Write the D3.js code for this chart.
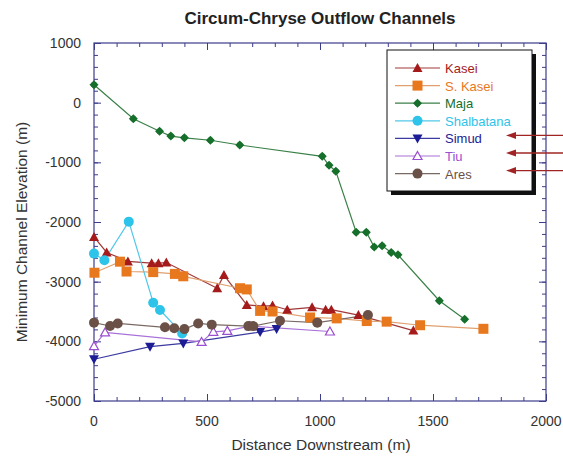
<!DOCTYPE html>
<html>
<head>
<meta charset="utf-8">
<script src="https://cdn.jsdelivr.net/npm/d3@7"></script>
<style>
  body { margin: 0; background: #fff; }
  text { font-family: "Liberation Sans", Arial, sans-serif; }
</style>
</head>
<body>
<div id="chart"></div>
<script>
// data (distance m, elevation m)
const seriesNames = ["Kasei", "S. Kasei", "Maja", "Shalbatana", "Simud", "Tiu", "Ares"];

const kasei = [[0,-2250],[56,-2510],[150,-2660],[255,-2690],[285,-2690],[320,-2680],[545,-3110],[575,-2890],[676,-3390],[750,-3410],[790,-3400],[855,-3470],[965,-3430],[1025,-3470],[1050,-3470],[1170,-3560],[1413,-3820]];
const sKasei = [[2,-2850],[115,-2665],[144,-2830],[262,-2840],[358,-2870],[395,-2910],[646,-3110],[676,-3130],[735,-3490],[790,-3500],[956,-3600],[1074,-3615],[1207,-3660],[1295,-3670],[1443,-3730],[1723,-3790]];
const maja = [[0,300],[174,-270],[290,-480],[340,-560],[400,-590],[515,-630],[645,-710],[1010,-900],[1040,-1050],[1070,-1150],[1160,-2170],[1205,-2170],[1240,-2420],[1275,-2400],[1315,-2510],[1345,-2550],[1528,-3320],[1640,-3630]];
const shalbatana = [[0,-2530],[46,-2640],[154,-1994],[262,-3352],[292,-3475],[390,-3870]];
const simud = [[0,-4300],[248,-4090],[395,-4035],[735,-3845],[808,-3795]];
const tiu = [[0,-4080],[49,-3850],[476,-4010],[528,-3840],[590,-3825],[690,-3745],[1044,-3835]];
const ares = [[0,-3687],[71,-3743],[105,-3700],[314,-3765],[355,-3780],[400,-3795],[461,-3700],[521,-3720],[683,-3745],[705,-3745],[823,-3655],[988,-3687],[1212,-3560]];

const xTicks = [0, 500, 1000, 1500, 2000];
const yTicks = [1000, 0, -1000, -2000, -3000, -4000, -5000];
const arrowRows = ["Simud", "Tiu", "Ares"];

const series = [
  { name: "Kasei", data: kasei, color: "#a51a1a", line: "#a03838", marker: "tri" },
  { name: "S. Kasei", data: sKasei, color: "#e8781e", line: "#e0a070", marker: "square" },
  { name: "Maja", data: maja, color: "#16702c", line: "#3a8048", marker: "diamond" },
  { name: "Shalbatana", data: shalbatana, color: "#2ec4ea", line: "#50c8e8", marker: "circle" },
  { name: "Simud", data: simud, color: "#1c1c94", line: "#3a3aa0", marker: "triDown" },
  { name: "Tiu", data: tiu, color: "#9a4ed0", line: "#a870d8", marker: "triOpen" },
  { name: "Ares", data: ares, color: "#6a5046", line: "#7a6a64", marker: "circle" }
];

const W = 563, H = 462;
const margin = { left: 94, right: 17, top: 43, bottom: 61 };
const iw = W - margin.left - margin.right, ih = H - margin.top - margin.bottom;

const svg = d3.select("#chart").append("svg").attr("width", W).attr("height", H);

const x = d3.scaleLinear().domain([0, 2000]).range([margin.left, margin.left + iw]);
const y = d3.scaleLinear().domain([-5000, 1000]).range([margin.top + ih, margin.top]);

const axisColor = "#3c3c8c";

// frame
svg.append("rect").attr("x", margin.left).attr("y", margin.top)
  .attr("width", iw).attr("height", ih)
  .attr("fill", "none").attr("stroke", axisColor).attr("stroke-width", 1.2);

// inward ticks on all sides
function ticksOn(g, axisGen) {
  g.call(axisGen);
  g.select(".domain").remove();
  g.selectAll("line").attr("stroke", axisColor);
}
const minorX = d3.range(0, 2001, 100), minorY = d3.range(-5000, 1001, 200);
svg.append("g").attr("transform", `translate(0,${margin.top + ih})`)
  .call(g => ticksOn(g, d3.axisTop(x).tickValues(minorX).tickSize(4).tickFormat("")));
svg.append("g").attr("transform", `translate(0,${margin.top + ih})`)
  .call(g => ticksOn(g, d3.axisTop(x).tickValues(xTicks).tickSize(7).tickFormat("")));
svg.append("g").attr("transform", `translate(0,${margin.top})`)
  .call(g => ticksOn(g, d3.axisBottom(x).tickValues(minorX).tickSize(4).tickFormat("")));
svg.append("g").attr("transform", `translate(0,${margin.top})`)
  .call(g => ticksOn(g, d3.axisBottom(x).tickValues(xTicks).tickSize(7).tickFormat("")));
svg.append("g").attr("transform", `translate(${margin.left},0)`)
  .call(g => ticksOn(g, d3.axisRight(y).tickValues(minorY).tickSize(4).tickFormat("")));
svg.append("g").attr("transform", `translate(${margin.left},0)`)
  .call(g => ticksOn(g, d3.axisRight(y).tickValues(yTicks).tickSize(7).tickFormat("")));
svg.append("g").attr("transform", `translate(${margin.left + iw},0)`)
  .call(g => ticksOn(g, d3.axisLeft(y).tickValues(minorY).tickSize(4).tickFormat("")));
svg.append("g").attr("transform", `translate(${margin.left + iw},0)`)
  .call(g => ticksOn(g, d3.axisLeft(y).tickValues(yTicks).tickSize(7).tickFormat("")));

// tick labels
svg.append("g").selectAll("text").data(xTicks).join("text")
  .attr("x", d => x(d)).attr("y", margin.top + ih + 25)
  .attr("text-anchor", "middle").attr("font-size", 14).attr("fill", "#333")
  .text(d => d);
svg.append("g").selectAll("text").data(yTicks).join("text")
  .attr("x", margin.left - 13).attr("y", d => y(d) + 5)
  .attr("text-anchor", "end").attr("font-size", 14).attr("fill", "#333")
  .text(d => d);

// titles
svg.append("text").attr("x", 320).attr("y", 24).attr("text-anchor", "middle")
  .attr("font-size", 17).attr("font-weight", "bold").attr("fill", "#222")
  .text("Circum-Chryse Outflow Channels");
svg.append("text").attr("x", 321).attr("y", 450).attr("text-anchor", "middle")
  .attr("font-size", 15.5).attr("fill", "#333").text("Distance Downstream (m)");
svg.append("text").attr("transform", `translate(27,${margin.top + ih / 2 + 10}) rotate(-90)`)
  .attr("text-anchor", "middle").attr("font-size", 15.5).attr("fill", "#333")
  .text("Minimum Channel Elevation (m)");

function drawMarker(g, type, color, cx, cy) {
  if (type === "tri") {
    g.append("path").attr("d", `M${cx},${cy - 5}L${cx + 5},${cy + 4}L${cx - 5},${cy + 4}Z`).attr("fill", color);
  } else if (type === "triDown") {
    g.append("path").attr("d", `M${cx},${cy + 5}L${cx + 5},${cy - 4}L${cx - 5},${cy - 4}Z`).attr("fill", color);
  } else if (type === "triOpen") {
    g.append("path").attr("d", `M${cx},${cy - 4.5}L${cx + 4.5},${cy + 3.5}L${cx - 4.5},${cy + 3.5}Z`)
      .attr("fill", "#fff").attr("stroke", color).attr("stroke-width", 1.2);
  } else if (type === "square") {
    g.append("rect").attr("x", cx - 5).attr("y", cy - 5).attr("width", 10).attr("height", 10).attr("fill", color);
  } else if (type === "diamond") {
    g.append("path").attr("d", `M${cx},${cy - 4.5}L${cx + 4.5},${cy}L${cx},${cy + 4.5}L${cx - 4.5},${cy}Z`).attr("fill", color);
    g.append("circle").attr("cx", cx).attr("cy", cy).attr("r", 3).attr("fill", color);
  } else {
    g.append("circle").attr("cx", cx).attr("cy", cy).attr("r", 5).attr("fill", color);
  }
}

const line = d3.line().x(d => x(d[0])).y(d => y(d[1]));
const plot = svg.append("g");
series.forEach(s => {
  plot.append("path").datum(s.data).attr("d", line)
    .attr("fill", "none").attr("stroke", s.line).attr("stroke-width", 1.2);
});
series.forEach(s => {
  const g = plot.append("g");
  s.data.forEach(d => drawMarker(g, s.marker, s.color, x(d[0]), y(d[1])));
});

// legend
const lg = svg.append("g").attr("transform", "translate(387,50)");
const lw = 145, lh = 141;
lg.append("rect").attr("x", 4).attr("y", 4).attr("width", lw).attr("height", lh).attr("fill", "#111");
lg.append("rect").attr("width", lw).attr("height", lh).attr("fill", "#fff").attr("stroke", "#111").attr("stroke-width", 1);
const rowY = i => 18 + i * 17.6;
series.forEach((s, i) => {
  const ry = rowY(i);
  lg.append("line").attr("x1", 8).attr("x2", 53).attr("y1", ry).attr("y2", ry)
    .attr("stroke", s.line).attr("stroke-width", 1.2);
  drawMarker(lg, s.marker, s.color, 30.5, ry);
  lg.append("text").attr("x", 58).attr("y", ry + 5).attr("font-size", 13)
    .attr("fill", s.color).text(s.name);
});

// red arrows pointing to three legend entries
const arrowColor = "#a02424";
arrowRows.forEach(name => {
  const ry = 50 + rowY(seriesNames.indexOf(name)) - 3;
  svg.append("line").attr("x1", 514).attr("x2", 563).attr("y1", ry).attr("y2", ry)
    .attr("stroke", arrowColor).attr("stroke-width", 1.3);
  svg.append("path").attr("d", `M506,${ry}L516,${ry - 3.5}L516,${ry + 3.5}Z`).attr("fill", arrowColor);
});
</script>
</body>
</html>
